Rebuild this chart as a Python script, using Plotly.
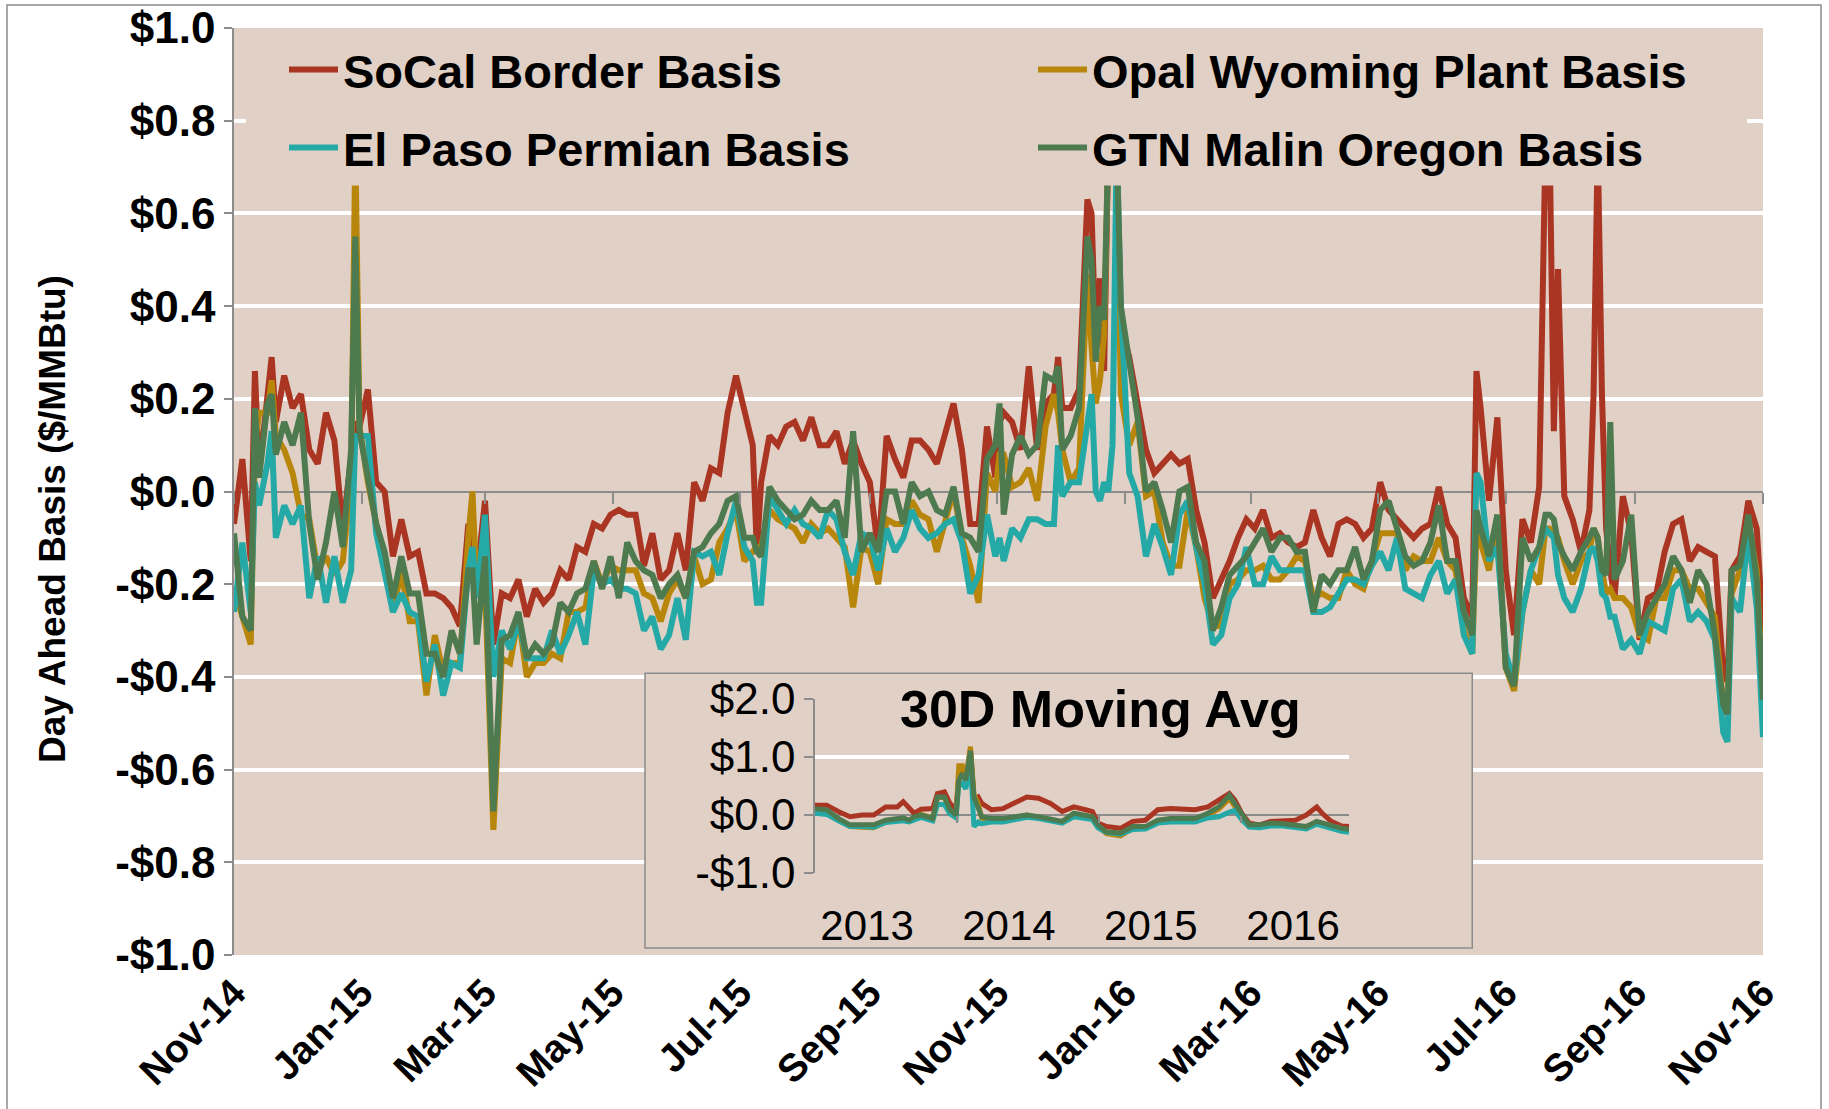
import pandas as pd
import plotly.graph_objects as go

# ---------------- data ----------------
start = pd.Timestamp("2014-11-01")
days = [0, 4, 8, 10, 12, 16, 18, 20, 24, 28,
        32, 36, 40, 44, 48, 52, 56, 58, 60, 64,
        68, 72, 76, 80, 84, 88, 92, 96, 100, 104,
        108, 112, 114, 116, 120, 124, 128, 132, 136, 140,
        144, 148, 152, 156, 160, 164, 168, 172, 176, 180,
        184, 188, 192, 196, 200, 204, 208, 212, 216, 220,
        224, 228, 232, 236, 240, 244, 248, 250, 252, 256,
        260, 264, 268, 272, 276, 280, 284, 288, 292, 296,
        300, 304, 308, 312, 316, 320, 324, 328, 332, 336,
        340, 344, 348, 352, 356, 360, 364, 366, 368, 372,
        376, 380, 384, 388, 392, 394, 396, 400, 404, 408,
        410, 412, 414, 416, 418, 420, 422, 424, 428, 432,
        436, 440, 444, 448, 452, 456, 460, 464, 468, 472,
        476, 480, 484, 488, 492, 496, 500, 504, 508, 512,
        516, 520, 524, 528, 532, 536, 540, 544, 548, 552,
        556, 560, 564, 568, 572, 576, 580, 584, 588, 592,
        594, 596, 600, 604, 608, 612, 616, 620, 624, 627,
        629, 631, 633, 636, 640, 644, 648, 650, 652, 654,
        656, 658, 660, 664, 668, 672, 676, 680, 684, 688,
        692, 696, 700, 704, 708, 712, 714, 716, 720, 724,
        728, 731]

socal = [-0.07, 0.07, -0.15, 0.26, 0.04, 0.22, 0.29, 0.15, 0.25, 0.18,
         0.21, 0.09, 0.06, 0.17, 0.11, -0.08, 0.09, 0.15, 0.14, 0.22,
         0.02, 0.00, -0.14, -0.06, -0.14, -0.13, -0.22, -0.22, -0.23, -0.25,
         -0.29, -0.07, -0.10, -0.19, -0.02, -0.33, -0.22, -0.23, -0.19, -0.27,
         -0.21, -0.24, -0.22, -0.17, -0.19, -0.12, -0.13, -0.07, -0.08, -0.05,
         -0.04, -0.05, -0.05, -0.16, -0.09, -0.19, -0.17, -0.09, -0.17, 0.02,
         -0.02, 0.05, 0.04, 0.17, 0.25, 0.17, 0.10, -0.13, 0.02, 0.12,
         0.10, 0.14, 0.15, 0.11, 0.16, 0.10, 0.10, 0.13, 0.06, 0.11,
         0.06, 0.02, -0.13, 0.12, 0.07, 0.03, 0.11, 0.11, 0.09, 0.06,
         0.13, 0.19, 0.09, -0.07, -0.07, 0.14, 0.03, 0.15, 0.17, 0.15,
         0.09, 0.27, 0.09, 0.19, 0.21, 0.29, 0.18, 0.18, 0.22, 0.63,
         0.60, 0.31, 0.46, 0.26, 0.75, 0.75, 0.70, 0.36, 0.29, 0.19,
         0.09, 0.04, 0.06, 0.08, 0.06, 0.07, -0.04, -0.11, -0.23, -0.19,
         -0.15, -0.10, -0.06, -0.08, -0.04, -0.10, -0.09, -0.11, -0.12, -0.11,
         -0.04, -0.10, -0.14, -0.07, -0.06, -0.07, -0.10, -0.08, 0.02, -0.04,
         -0.06, -0.08, -0.10, -0.08, -0.07, 0.01, -0.07, -0.10, -0.23, -0.27,
         0.26, 0.18, -0.02, 0.16, -0.17, -0.31, -0.06, -0.11, 0.01, 0.75,
         0.75, 0.13, 0.48, -0.01, -0.06, -0.13, -0.04, 0.21, 0.75, 0.21,
         -0.08, -0.17, -0.23, -0.01, -0.09, -0.32, -0.23, -0.22, -0.13, -0.07,
         -0.06, -0.15, -0.12, -0.13, -0.14, -0.39, -0.41, -0.17, -0.14, -0.02,
         -0.08, -0.30]

opal = [-0.21, -0.27, -0.33, 0.10, 0.17, 0.17, 0.24, 0.12, 0.09, 0.04,
        -0.05, -0.06, -0.17, -0.14, -0.18, -0.15, 0.02, 0.75, 0.14, 0.02,
        -0.07, -0.14, -0.26, -0.17, -0.28, -0.28, -0.44, -0.31, -0.39, -0.37,
        -0.37, -0.10, 0.00, -0.21, -0.20, -0.73, -0.36, -0.37, -0.27, -0.40,
        -0.37, -0.37, -0.35, -0.36, -0.26, -0.26, -0.25, -0.15, -0.20, -0.16,
        -0.17, -0.17, -0.17, -0.22, -0.23, -0.28, -0.22, -0.19, -0.23, -0.14,
        -0.20, -0.19, -0.11, -0.08, -0.04, -0.15, -0.13, -0.12, -0.12, -0.04,
        -0.06, -0.07, -0.08, -0.11, -0.07, -0.09, -0.08, -0.10, -0.12, -0.25,
        -0.12, -0.13, -0.20, -0.06, -0.07, -0.07, -0.02, -0.05, -0.06, -0.13,
        -0.07, 0.00, -0.10, -0.16, -0.24, 0.04, 0.00, 0.08, 0.08, 0.01,
        0.02, 0.05, -0.02, 0.14, 0.21, 0.17, 0.09, 0.02, 0.05, 0.47,
        0.31, 0.19, 0.24, 0.34, 0.75, 0.75, 0.70, 0.21, 0.10, 0.15,
        -0.01, 0.00, -0.11, -0.16, -0.16, -0.04, -0.12, -0.23, -0.29, -0.29,
        -0.20, -0.19, -0.17, -0.17, -0.16, -0.19, -0.19, -0.17, -0.14, -0.15,
        -0.23, -0.22, -0.23, -0.23, -0.17, -0.20, -0.21, -0.15, -0.09, -0.09,
        -0.09, -0.17, -0.14, -0.15, -0.15, -0.10, -0.15, -0.17, -0.30, -0.35,
        -0.09, -0.11, -0.17, -0.06, -0.38, -0.43, -0.26, -0.17, -0.20, -0.08,
        -0.08, -0.09, -0.10, -0.15, -0.20, -0.15, -0.13, -0.08, -0.10, -0.17,
        -0.22, -0.21, -0.23, -0.23, -0.25, -0.31, -0.32, -0.23, -0.23, -0.17,
        -0.17, -0.21, -0.21, -0.24, -0.27, -0.46, -0.48, -0.22, -0.17, -0.07,
        -0.17, -0.45]

elpaso = [-0.26, -0.11, -0.26, 0.02, -0.03, 0.06, 0.13, -0.10, -0.03, -0.07,
          -0.03, -0.23, -0.14, -0.24, -0.14, -0.24, -0.17, 0.12, 0.12, 0.12,
          -0.09, -0.17, -0.26, -0.22, -0.26, -0.27, -0.41, -0.33, -0.44, -0.37,
          -0.38, -0.17, -0.12, -0.23, -0.05, -0.40, -0.30, -0.34, -0.28, -0.36,
          -0.36, -0.36, -0.30, -0.35, -0.31, -0.26, -0.33, -0.17, -0.20, -0.19,
          -0.21, -0.21, -0.22, -0.30, -0.27, -0.34, -0.31, -0.23, -0.32, -0.13,
          -0.14, -0.13, -0.18, -0.09, -0.02, -0.12, -0.15, -0.24, -0.24, -0.01,
          -0.04, -0.07, -0.04, -0.07, -0.08, -0.10, -0.04, -0.06, -0.13, -0.18,
          -0.09, -0.10, -0.17, -0.08, -0.13, -0.10, -0.04, -0.08, -0.10, -0.09,
          -0.07, -0.06, -0.11, -0.22, -0.18, -0.05, -0.14, -0.10, -0.15, -0.08,
          -0.10, -0.06, -0.06, -0.07, -0.07, 0.10, -0.01, 0.02, 0.02, 0.15,
          0.21, 0.00, -0.02, 0.02, 0.00, 0.10, 0.75, 0.40, 0.04, -0.01,
          -0.14, -0.07, -0.12, -0.18, -0.05, -0.02, -0.12, -0.20, -0.33, -0.31,
          -0.23, -0.20, -0.12, -0.20, -0.20, -0.14, -0.17, -0.17, -0.17, -0.17,
          -0.26, -0.26, -0.25, -0.22, -0.19, -0.19, -0.20, -0.16, -0.13, -0.17,
          -0.10, -0.21, -0.22, -0.23, -0.18, -0.15, -0.22, -0.19, -0.31, -0.35,
          0.04, 0.02, -0.15, -0.12, -0.35, -0.41, -0.26, -0.17, -0.12, -0.08,
          -0.09, -0.10, -0.18, -0.23, -0.26, -0.21, -0.13, -0.12, -0.15, -0.22,
          -0.23, -0.27, -0.27, -0.34, -0.32, -0.35, -0.28, -0.29, -0.30, -0.21,
          -0.19, -0.28, -0.26, -0.28, -0.32, -0.52, -0.54, -0.23, -0.26, -0.09,
          -0.25, -0.53]

gtn = [-0.09, -0.27, -0.30, 0.18, 0.03, 0.19, 0.21, 0.08, 0.15, 0.10,
       0.17, -0.07, -0.19, -0.11, 0.00, -0.12, 0.09, 0.55, 0.13, 0.02,
       -0.07, -0.13, -0.23, -0.14, -0.22, -0.22, -0.35, -0.35, -0.40, -0.30,
       -0.35, -0.17, -0.17, -0.33, -0.14, -0.69, -0.32, -0.31, -0.26, -0.36,
       -0.33, -0.35, -0.33, -0.24, -0.26, -0.22, -0.21, -0.15, -0.21, -0.14,
       -0.23, -0.11, -0.15, -0.17, -0.18, -0.23, -0.20, -0.18, -0.23, -0.13,
       -0.12, -0.09, -0.07, -0.02, -0.01, -0.10, -0.10, -0.13, -0.14, 0.01,
       -0.02, -0.04, -0.06, -0.05, -0.02, -0.04, -0.04, -0.02, -0.10, 0.13,
       -0.13, -0.09, -0.13, 0.00, 0.00, -0.07, 0.02, -0.01, 0.00, -0.04,
       -0.05, 0.01, -0.09, -0.10, -0.13, 0.07, 0.10, 0.19, -0.05, 0.08,
       0.12, 0.08, 0.10, 0.25, 0.24, 0.27, 0.09, 0.12, 0.18, 0.55,
       0.50, 0.28, 0.40, 0.37, 0.75, 0.75, 0.75, 0.40, 0.29, 0.16,
       0.00, 0.02, -0.04, -0.11, 0.00, 0.01, -0.11, -0.15, -0.30, -0.25,
       -0.18, -0.16, -0.14, -0.11, -0.08, -0.13, -0.10, -0.10, -0.13, -0.13,
       -0.26, -0.18, -0.20, -0.17, -0.17, -0.12, -0.19, -0.15, -0.04, -0.02,
       -0.08, -0.14, -0.16, -0.15, -0.11, -0.03, -0.15, -0.15, -0.26, -0.31,
       -0.04, -0.08, -0.14, -0.05, -0.38, -0.42, -0.10, -0.15, -0.12, -0.05,
       -0.05, -0.06, -0.11, -0.14, -0.17, -0.13, -0.10, -0.08, -0.10, -0.17,
       -0.18, 0.15, -0.19, -0.15, -0.05, -0.31, -0.26, -0.23, -0.20, -0.14,
       -0.17, -0.24, -0.17, -0.20, -0.31, -0.46, -0.48, -0.17, -0.16, -0.05,
       -0.19, -0.45]

for s in (socal, opal, elpaso, gtn):
    assert len(s) == len(days), len(s)
dates = [start + pd.Timedelta(days=d) for d in days]

# 30-day moving average (inset)
ma_dates = ["2013-01-01", "2013-01-31", "2013-03-02", "2013-04-01", "2013-05-02",
            "2013-06-01", "2013-07-02", "2013-08-01", "2013-08-16", "2013-08-31",
            "2013-09-13", "2013-10-01", "2013-10-31", "2013-11-12", "2013-11-30",
            "2013-12-14", "2013-12-30", "2014-01-06", "2014-01-15", "2014-01-24",
            "2014-02-05", "2014-02-14", "2014-02-25", "2014-03-06", "2014-03-31",
            "2014-04-30", "2014-05-31", "2014-06-30", "2014-07-30", "2014-08-30",
            "2014-09-29", "2014-10-29", "2014-11-28", "2014-12-16", "2014-12-30",
            "2015-01-21", "2015-02-26", "2015-03-30", "2015-05-01", "2015-06-02",
            "2015-07-04", "2015-08-05", "2015-09-06", "2015-10-09", "2015-11-06",
            "2015-12-03", "2015-12-17", "2016-01-04", "2016-01-23", "2016-02-19",
            "2016-03-18", "2016-04-19", "2016-05-21", "2016-06-18", "2016-07-15",
            "2016-07-29", "2016-08-21", "2016-09-17", "2016-10-06"]
ma_socal = [0.17, 0.17, 0.06, -0.03, 0.00, 0.00, 0.14, 0.14, 0.23, 0.11,
            0.03, 0.10, 0.11, 0.37, 0.40, 0.20, 0.11, 0.66, 0.77, 0.60,
            1.14, 0.26, 0.31, 0.20, 0.09, 0.11, 0.20, 0.31, 0.29, 0.20,
            0.06, 0.14, 0.09, 0.06, -0.14, -0.20, -0.23, -0.11, -0.09, 0.09,
            0.11, 0.09, 0.09, 0.14, 0.26, 0.37, 0.26, 0.03, -0.14, -0.17,
            -0.11, -0.09, -0.09, 0.00, 0.14, 0.03, -0.11, -0.19, -0.20]
ma_opal = [0.07, 0.06, -0.09, -0.20, -0.21, -0.22, -0.12, -0.08, -0.06, -0.10,
           -0.05, 0.01, -0.05, 0.30, 0.30, 0.08, 0.00, 0.85, 0.85, 0.62,
           1.18, 0.35, 0.20, -0.05, -0.10, -0.08, -0.05, 0.00, -0.05, -0.08,
           -0.13, 0.00, -0.03, -0.05, -0.20, -0.32, -0.36, -0.23, -0.22, -0.11,
           -0.08, -0.08, -0.07, 0.00, 0.10, 0.28, 0.15, -0.05, -0.19, -0.19,
           -0.16, -0.16, -0.18, -0.21, -0.13, -0.15, -0.19, -0.24, -0.26]
ma_elpaso = [0.03, 0.01, -0.10, -0.20, -0.20, -0.21, -0.13, -0.11, -0.10, -0.12,
             -0.08, -0.04, -0.10, 0.18, 0.18, 0.02, -0.05, 0.55, 0.55, 0.45,
             0.90, -0.20, -0.12, -0.15, -0.12, -0.12, -0.08, -0.04, -0.06, -0.10,
             -0.14, -0.03, -0.06, -0.08, -0.22, -0.30, -0.33, -0.25, -0.24, -0.14,
             -0.12, -0.12, -0.12, -0.05, -0.03, 0.05, 0.08, -0.08, -0.21, -0.22,
             -0.19, -0.19, -0.21, -0.24, -0.16, -0.19, -0.22, -0.28, -0.30]
ma_gtn = [0.11, 0.09, -0.06, -0.17, -0.17, -0.17, -0.09, -0.06, -0.05, -0.09,
          -0.03, 0.00, -0.06, 0.31, 0.31, 0.09, 0.00, 0.60, 0.71, 0.60,
          1.11, 0.31, 0.14, -0.03, -0.06, -0.06, -0.03, 0.00, -0.03, -0.06,
          -0.11, 0.03, 0.00, -0.03, -0.17, -0.29, -0.31, -0.20, -0.20, -0.09,
          -0.06, -0.06, -0.06, 0.03, 0.14, 0.34, 0.20, 0.00, -0.17, -0.17,
          -0.14, -0.15, -0.17, -0.20, -0.11, -0.14, -0.17, -0.23, -0.25]
for s in (ma_socal, ma_opal, ma_elpaso, ma_gtn):
    assert len(s) == len(ma_dates), len(s)

names = ["SoCal Border Basis", "Opal Wyoming Plant Basis",
         "El Paso Permian Basis", "GTN Malin Oregon Basis"]
y_tickvals = [-1.0, -0.8, -0.6, -0.4, -0.2, 0.0, 0.2, 0.4, 0.6, 0.8, 1.0]
y_ticktext = ["-$1.0", "-$0.8", "-$0.6", "-$0.4", "-$0.2", "$0.0",
              "$0.2", "$0.4", "$0.6", "$0.8", "$1.0"]
inset_yvals = [-1, 0, 1, 2]
inset_ytext = ["-$1.0", "$0.0", "$1.0", "$2.0"]
inset_xvals = ["2013-05-15", "2014-05-15", "2015-05-15", "2016-05-15"]
inset_xtext = ["2013", "2014", "2015", "2016"]

# ---------------- style ----------------
W, H = 1829, 1109
ML, MR, MT, MB = 234, 66, 28, 154
PW, PH = W - ML - MR, H - MT - MB
def px_x(p):
    return (p - ML) / PW
def px_y(p):
    return (H - MB - p) / PH

TAN = "#E0D0C6"
GRAY = "#8C8C8C"
FONT = "Arial, Liberation Sans, sans-serif"
colors = ["#A93522", "#B8860B", "#25A9A6", "#4E7A50"]
legends = ["legend", "legend2", "legend3", "legend4"]

fig = go.Figure()
main_series = [socal, opal, elpaso, gtn]
for nm, ys, c, lg in zip(names, main_series, colors, legends):
    fig.add_trace(go.Scatter(x=dates, y=ys, mode="lines", name=nm,
                             line=dict(color=c, width=6), legend=lg,
                             xaxis="x", yaxis="y"))
fig.add_trace(go.Scatter(x=[dates[0], dates[-1]], y=[None, None], xaxis="x2",
                         yaxis="y", showlegend=False, hoverinfo="skip"))
ma_series = [ma_socal, ma_opal, ma_elpaso, ma_gtn]
for nm, ys, c in zip(names, ma_series, colors):
    fig.add_trace(go.Scatter(x=ma_dates, y=ys, mode="lines", name=nm,
                             line=dict(color=c, width=5), showlegend=False,
                             xaxis="x3", yaxis="y3"))
fig.add_trace(go.Scatter(x=[ma_dates[0], ma_dates[-1]], y=[None, None],
                         xaxis="x4", yaxis="y3", showlegend=False,
                         hoverinfo="skip"))

inset_x0, inset_x1 = px_x(815), px_x(1349)
inset_y0, inset_y1 = px_y(873), px_y(699)
inset_zero = inset_y0 + (inset_y1 - inset_y0) / 3.0

fig.update_layout(
    width=W, height=H, autosize=False,
    margin=dict(l=ML, r=MR, t=MT, b=MB, pad=0, autoexpand=False),
    paper_bgcolor="white", plot_bgcolor=TAN,
    font=dict(family=FONT, color="black"),
    xaxis=dict(domain=[0, 1], type="date", automargin=False,
               range=["2014-11-01", "2016-11-01"],
               tick0="2014-11-01", dtick="M2", tickformat="%b-%y",
               tickangle=-45, tickfont=dict(size=39, weight="bold"),
               ticks="", ticklabelstandoff=6,
               showgrid=False, showline=False, zeroline=False),
    xaxis2=dict(overlaying="x", anchor="free", position=0.5, type="date",
                automargin=False,
                range=["2014-11-01", "2016-11-01"],
                tick0="2014-11-01", dtick="M2", ticks="outside",
                ticklen=11, tickwidth=1.5, tickcolor=GRAY,
                showticklabels=False, showgrid=False, showline=False,
                zeroline=False),
    yaxis=dict(domain=[0, 1], range=[-1, 1], tickvals=y_tickvals,
               automargin=False,
               ticktext=y_ticktext, tickfont=dict(size=44, weight="bold"),
               showgrid=True, gridcolor="white", gridwidth=4,
               zeroline=True, zerolinecolor=GRAY, zerolinewidth=1.5,
               showline=True, linecolor=GRAY, linewidth=1.5,
               ticks="outside", ticklen=8, tickwidth=1.5, tickcolor=GRAY),
    xaxis3=dict(domain=[inset_x0, inset_x1], anchor="y3", type="date",
                automargin=False,
                range=["2013-01-01", "2016-10-06"],
                tickvals=inset_xvals, ticktext=inset_xtext,
                tickfont=dict(size=42), ticks="", ticklabelstandoff=24,
                showgrid=False, showline=False, zeroline=False),
    xaxis4=dict(overlaying="x3", anchor="free", position=inset_zero,
                automargin=False,
                type="date", range=["2013-01-01", "2016-10-06"],
                tickvals=["2014-01-01", "2015-01-01", "2016-01-01"],
                ticks="outside", ticklen=7, tickwidth=1.5, tickcolor=GRAY,
                showticklabels=False, showgrid=False, showline=False,
                zeroline=False),
    yaxis3=dict(domain=[inset_y0, inset_y1], anchor="x3", range=[-1, 2],
                automargin=False,
                tickvals=inset_yvals, ticktext=inset_ytext,
                tickfont=dict(size=44),
                showgrid=True, gridcolor="white", gridwidth=4,
                zeroline=True, zerolinecolor=GRAY, zerolinewidth=1.5,
                showline=True, linecolor=GRAY, linewidth=1.5,
                ticks="outside", ticklen=9, tickwidth=1.5, tickcolor=GRAY),
    showlegend=True,
)

leg_pos = [(284, 70), (1033, 70), (284, 148), (1033, 148)]
for lg, (lx, ly) in zip(legends, leg_pos):
    fig.update_layout({lg: dict(x=px_x(lx), y=px_y(ly), xanchor="left",
                                yanchor="middle", bgcolor="rgba(0,0,0,0)",
                                borderwidth=0, itemwidth=49,
                                font=dict(size=47, weight="bold",
                                          family=FONT, color="black"))})

shapes = [
    # tan legend panel covering the top of the plot
    dict(type="rect", xref="paper", yref="paper",
         x0=px_x(246), x1=px_x(1747), y0=0.83, y1=1.0,
         fillcolor=TAN, line=dict(width=0), layer="above"),
    # inset panel (between the main gridlines and the main traces)
    dict(type="rect", xref="x", yref="y",
         x0="2015-05-16 12:00", x1="2016-06-15", y0=-0.985, y1=-0.392,
         fillcolor=TAN, line=dict(color=GRAY, width=1.5), layer="between"),
    # outer chart border
    dict(type="rect", xref="paper", yref="paper",
         x0=px_x(7), x1=px_x(1821), y0=px_y(1130), y1=px_y(5),
         fillcolor="rgba(0,0,0,0)", line=dict(color=GRAY, width=1.5),
         layer="below"),
]
fig.update_layout(shapes=shapes)

fig.add_annotation(text="Day Ahead Basis ($/MMBtu)", textangle=-90,
                   xref="paper", yref="paper", x=px_x(52), y=px_y(519),
                   xanchor="center", yanchor="middle", showarrow=False,
                   font=dict(size=37, weight="bold", family=FONT))
fig.add_annotation(text="30D Moving Avg", xref="paper", yref="paper",
                   x=px_x(1100), y=px_y(709), xanchor="center",
                   yanchor="middle", showarrow=False,
                   font=dict(size=52, weight="bold", family=FONT))

fig.write_html("out.html", config={"displayModeBar": False},
               post_script="document.body.style.margin='0';"
                           "document.body.style.overflow='hidden';")
